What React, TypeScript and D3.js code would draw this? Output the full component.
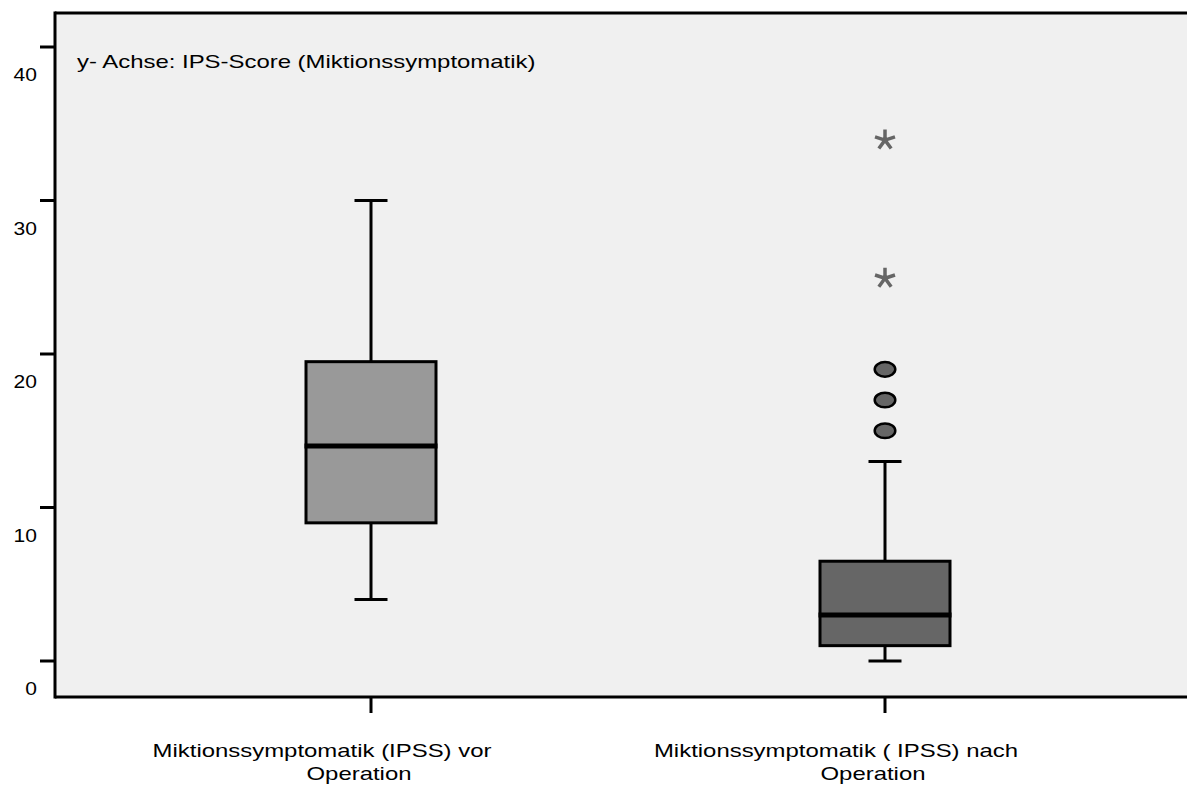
import React from "react";
import * as d3 from "d3";

// IPSS score summaries before and after surgery
const categories = ["vor", "nach"];
const labelFirstLine = ["Miktionssymptomatik (IPSS) vor", "Miktionssymptomatik ( IPSS) nach"];
const labelSecondLine = ["Operation", "Operation"];
const whiskerLow = [4, 0];
const q1 = [9, 1];
const median = [14, 3];
const q3 = [19.5, 6.5];
const whiskerHigh = [30, 13];
const boxFill = ["#999999", "#666666"];
// outliers (circles) and extreme values (asterisks) for the second group
const outlierValues = [15, 17, 19];
const extremeValues = [25, 34];
const yTicks = [0, 10, 20, 30, 40];
const annotation = "y- Achse: IPS-Score (Miktionssymptomatik)";

const W = 1187;
const H = 787;
const left = 55;
const top = 13;
const right = 1187;
const bottom = 697;

// the labels are set in a wide sans face; stretch Arial horizontally to that width
const STRETCH = 1.33;

function Wide({ x, y, anchor, size, children }: { x: number; y: number; anchor: "start" | "middle" | "end"; size: number; children: string }) {
  return (
    <text transform={`translate(${x},${y}) scale(${STRETCH},1)`} textAnchor={anchor} fontSize={size} fill="#000">
      {children}
    </text>
  );
}

// five-armed asterisk used for extreme values
function asteriskPath(r: number) {
  const p = d3.path();
  for (let k = 0; k < 5; k++) {
    const a = (-90 + k * 72) * (Math.PI / 180);
    p.moveTo(0, 0);
    p.lineTo(r * Math.cos(a), r * Math.sin(a));
  }
  return p.toString();
}

export default function App() {
  const y = d3.scaleLinear().domain([0, 40]).range([661, 47]);
  const x = d3.scalePoint<string>().domain(categories).range([371, 885]);
  const boxW = 130;
  const capW = 33;
  const font = "Arial, 'Liberation Sans', sans-serif";
  const star = asteriskPath(10.5);
  // the wrapped category label block sits slightly left of the tick
  const firstLineShift = -49;
  const secondLineShift = -12;

  return (
    <svg width={W} height={H} style={{ position: "absolute", left: 0, top: 0, background: "#fff" }} fontFamily={font}>
      <rect x={left} y={top} width={right - left} height={bottom - top} fill="#f0f0f0" />
      {/* frame */}
      <line x1={left} x2={right} y1={top} y2={top} stroke="#000" strokeWidth={3} />
      <line x1={left} x2={right} y1={bottom} y2={bottom} stroke="#000" strokeWidth={3} />
      <line x1={left} x2={left} y1={top - 1.5} y2={bottom + 1.5} stroke="#000" strokeWidth={3} />
      {/* y axis */}
      {yTicks.map((t) => (
        <g key={t}>
          <line x1={40} x2={left} y1={y(t)} y2={y(t)} stroke="#000" strokeWidth={3} />
          <text transform={`translate(37,${y(t) + 34}) scale(1.17,1)`} textAnchor="end" fontSize={18} fill="#000">
            {t}
          </text>
        </g>
      ))}
      <Wide x={77} y={68} anchor="start" size={18}>
        {annotation}
      </Wide>
      {/* boxes */}
      {categories.map((c, i) => {
        const cx = x(c)!;
        return (
          <g key={c}>
            <line x1={cx} x2={cx} y1={y(whiskerHigh[i])} y2={y(q3[i])} stroke="#000" strokeWidth={3} />
            <line x1={cx} x2={cx} y1={y(q1[i])} y2={y(whiskerLow[i])} stroke="#000" strokeWidth={3} />
            <line x1={cx - capW / 2} x2={cx + capW / 2} y1={y(whiskerHigh[i])} y2={y(whiskerHigh[i])} stroke="#000" strokeWidth={3} />
            <line x1={cx - capW / 2} x2={cx + capW / 2} y1={y(whiskerLow[i])} y2={y(whiskerLow[i])} stroke="#000" strokeWidth={3} />
            <rect
              x={cx - boxW / 2}
              y={y(q3[i])}
              width={boxW}
              height={y(q1[i]) - y(q3[i])}
              fill={boxFill[i]}
              stroke="#000"
              strokeWidth={3}
            />
            <line x1={cx - boxW / 2 - 1.5} x2={cx + boxW / 2 + 1.5} y1={y(median[i])} y2={y(median[i])} stroke="#000" strokeWidth={5} />
            <line x1={cx} x2={cx} y1={bottom} y2={713} stroke="#000" strokeWidth={3} />
            <Wide x={cx + firstLineShift} y={757} anchor="middle" size={18}>
              {labelFirstLine[i]}
            </Wide>
            <Wide x={cx + secondLineShift} y={780} anchor="middle" size={18}>
              {labelSecondLine[i]}
            </Wide>
          </g>
        );
      })}
      {outlierValues.map((v) => (
        <ellipse key={v} cx={x("nach")!} cy={y(v)} rx={10.3} ry={7.3} fill="#666666" stroke="#000" strokeWidth={2.5} />
      ))}
      {extremeValues.map((v) => (
        <path
          key={v}
          d={star}
          transform={`translate(${x("nach")!},${y(v) + 1})`}
          fill="none"
          stroke="#666666"
          strokeWidth={3.5}
        />
      ))}
    </svg>
  );
}
